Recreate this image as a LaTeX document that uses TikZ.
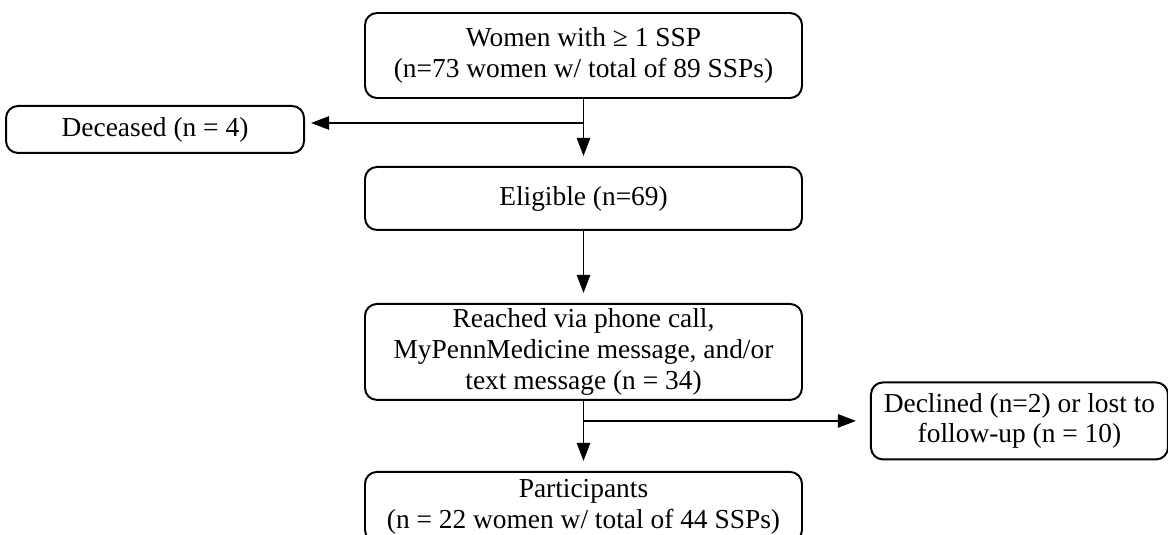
\documentclass[tikz,border=0pt]{standalone}
\usepackage{fontspec}
\setmainfont{Liberation Serif}
\usetikzlibrary{arrows.meta, positioning}

\begin{document}
\begin{tikzpicture}[
node distance=1.75cm,
box/.style={draw,
rectangle,
rounded corners=0.3cm,
line width=1.4pt,
minimum width=10.925cm,
inner ysep=1pt,
align=center,
font=\fontsize{19.5}{21.8}\selectfont},
arrow/.style={-{Triangle[length=0.45cm, width=0.33cm]}, line width=1.4pt, shorten >=0.25cm}
]

\clip (0,0) rectangle (29.2,-13.35);

\node[box, minimum height=2.125cm] (women) at (14.5875,-1.3875) {Women with ≥ 1 SSP\\(n=73 women w/ total of 89 SSPs)};
\node[box, minimum height=1.575cm, below=1.675cm of women] (eligible) {Eligible (n=69)};
\node[box, minimum height=2.4cm, below=1.8cm of eligible] (reached) {Reached via phone call,\\MyPennMedicine message, and/or\\text message (n = 34)};
\node[box, minimum height=1.75cm, below=1.75cm of reached] (participants) {Participants\\(n = 22 women w/ total of 44 SSPs)};

\node[box, minimum width=7.45cm, minimum height=1.175cm, below left=0.15cm and 1.475cm of women.south west] (deceased) {Deceased (n = 4)};
\node[box, minimum width=7.425cm, minimum height=1.925cm, right=1.675cm of reached.south east, yshift=-0.5cm] (declined) {Declined (n=2) or lost to\\follow-up (n = 10)};

\draw[arrow] (women) -- (eligible);
\coordinate[below=0.6cm of women.south] (split1);
\draw[arrow, shorten >=0.15cm] (split1) -- (split1 -| deceased.east);
\draw[arrow] (eligible) -- (reached);
\draw[arrow] (reached) -- (participants);
\draw[arrow, shorten >=0.35cm] (reached.south |- declined.west) -- (declined.west);

\end{tikzpicture}
\end{document}
